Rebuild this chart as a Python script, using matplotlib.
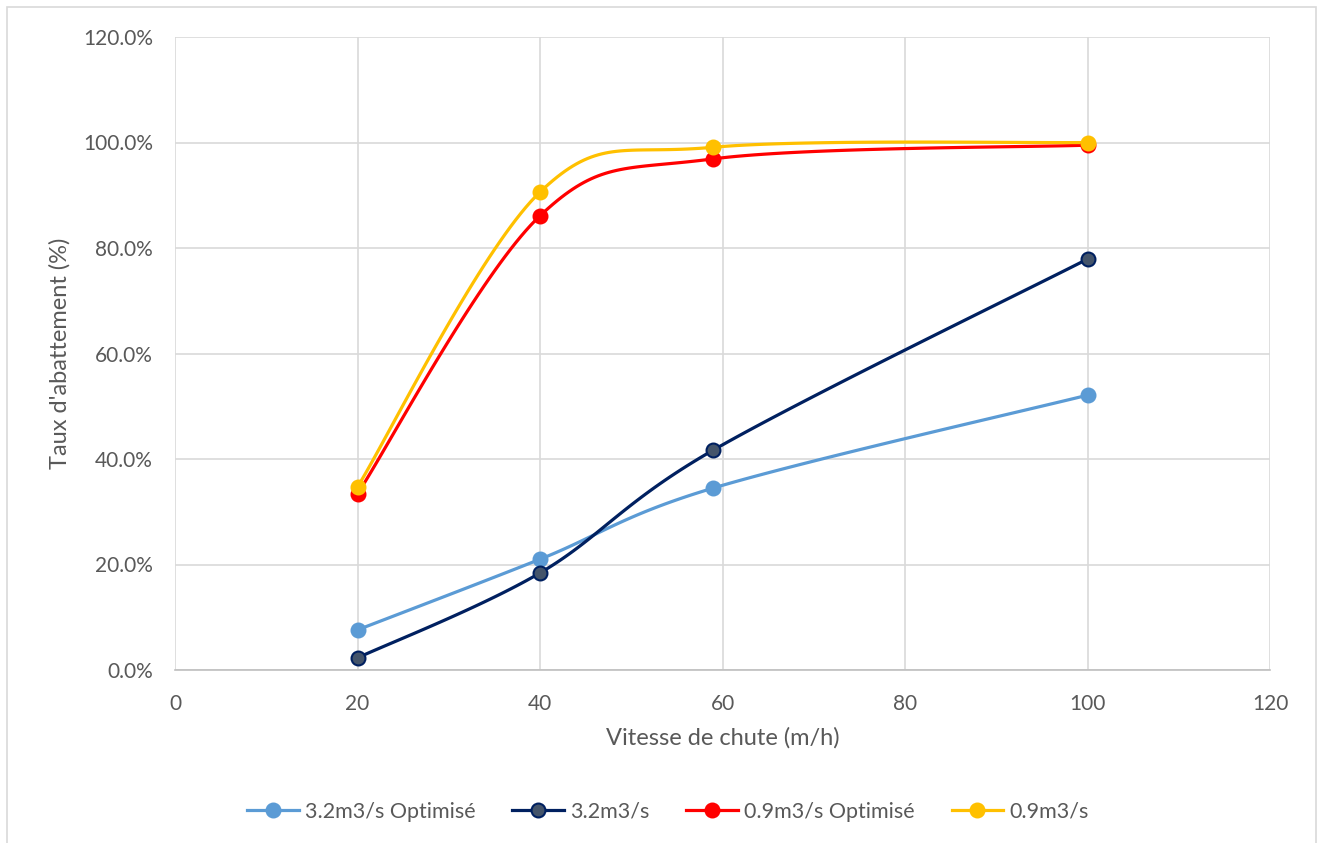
import numpy as np
import matplotlib
matplotlib.use("Agg")
import matplotlib.pyplot as plt
from matplotlib.patches import Rectangle
from matplotlib.ticker import FuncFormatter, MultipleLocator

plt.rcParams['font.family'] = ['Lato', 'DejaVu Sans']

x_vals = [20, 40, 59, 100]
s32_opt = [7.6, 21.0, 34.5, 52.1]
s32 = [2.3, 18.4, 41.7, 77.9]
s09_opt = [33.4, 86.1, 96.9, 99.5]
s09 = [34.7, 90.6, 99.1, 100.0]
labels = ["3.2m3/s Optimisé", "3.2m3/s", "0.9m3/s Optimisé", "0.9m3/s"]


def smooth(xs, ys, n=40):
    xs = np.asarray(xs, float); ys = np.asarray(ys, float)
    P = np.column_stack([xs, ys])
    out = []
    m = len(P)
    for i in range(m - 1):
        p0 = P[i - 1] if i > 0 else P[i]
        p1 = P[i]
        p2 = P[i + 1]
        p3 = P[i + 2] if i + 2 < m else P[i + 1]
        c1 = p1 + (p2 - p0) / 6.0
        c2 = p2 - (p3 - p1) / 6.0
        t = np.linspace(0, 1, n)[:, None]
        seg = ((1 - t) ** 3) * p1 + 3 * ((1 - t) ** 2) * t * c1 + 3 * (1 - t) * t ** 2 * c2 + t ** 3 * p2
        out.append(seg if i == 0 else seg[1:])
    out = np.vstack(out)
    return out[:, 0], out[:, 1]


fig = plt.figure(figsize=(13.2, 8.43), dpi=100)
ax = fig.add_axes([175 / 1320, 1 - 670 / 843, (1270 - 175) / 1320, (670 - 37) / 843])

fig.patches.append(Rectangle((7 / 1320, -0.05), (1316 - 7) / 1320, 1.05 - 7 / 843,
                             transform=fig.transFigure, fill=False,
                             edgecolor='#D9D9D9', linewidth=1.2))

series = [
    (s32_opt, '#5B9BD5', '#5B9BD5', '#5B9BD5'),
    (s32, '#002060', '#44546A', '#002060'),
    (s09_opt, '#FF0000', '#FF0000', '#FF0000'),
    (s09, '#FFC000', '#FFC000', '#FFC000'),
]
handles = []
for (ys, lc, mfc, mec), lab in zip(series, labels):
    sx, sy = smooth(x_vals, ys)
    ax.plot(sx, sy, color=lc, lw=2.3, solid_capstyle='round', zorder=3)
    ax.plot(x_vals, ys, linestyle='none', marker='o', ms=10, mfc=mfc, mec=mec,
            mew=1.5, zorder=4)
    h, = ax.plot([], [], color=lc, lw=2.3, marker='o', ms=10, mfc=mfc, mec=mec, mew=1.5, label=lab)
    handles.append(h)

ax.set_xlim(0, 120)
ax.set_ylim(0, 120)
ax.xaxis.set_major_locator(MultipleLocator(20))
ax.yaxis.set_major_locator(MultipleLocator(20))
ax.yaxis.set_major_formatter(FuncFormatter(lambda v, p: f"{v:.1f}%"))
ax.grid(True, color='#D9D9D9', lw=1.2)
ax.set_axisbelow(True)
for s in ['top', 'right', 'left']:
    ax.spines[s].set_visible(False)
ax.spines['bottom'].set_color('#BFBFBF')
ax.spines['bottom'].set_linewidth(1.2)
ax.tick_params(length=0, labelsize=15, colors='#595959')
ax.tick_params(axis='x', pad=17)
ax.tick_params(axis='y', pad=16)

ax.set_xlabel("Vitesse de chute (m/h)", fontsize=17, color='#595959', labelpad=10)
ax.set_ylabel("Taux d'abattement (%)", fontsize=17, color='#595959', labelpad=9)

fig.legend(handles=handles, loc='center', bbox_to_anchor=(668 / 1320, 1 - 812 / 843),
           ncol=4, frameon=False, fontsize=15.5, labelcolor='#595959',
           handlelength=2.4, handletextpad=0.3, columnspacing=1.7)

fig.savefig("out.png", dpi=100)
